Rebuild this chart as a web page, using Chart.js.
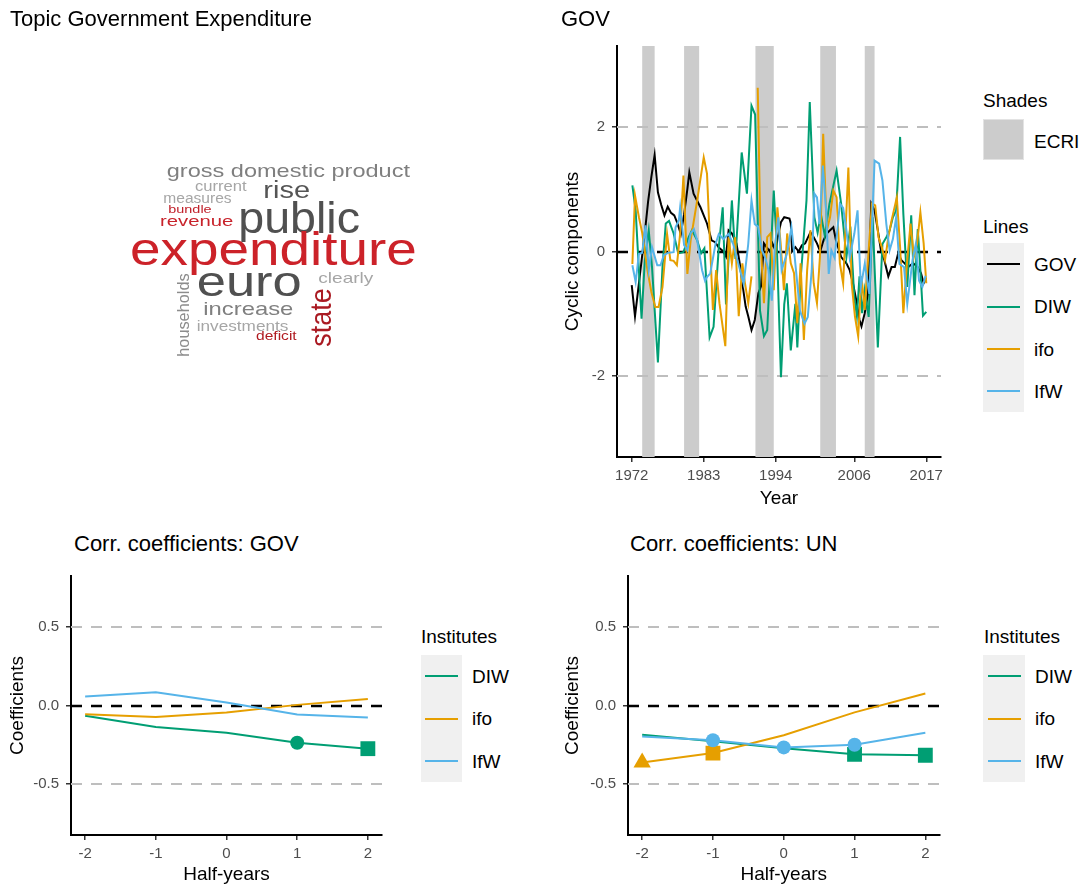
<!DOCTYPE html>
<html>
<head>
<meta charset="utf-8">
<script src="https://cdn.jsdelivr.net/npm/chart.js@4.4.1/dist/chart.umd.min.js"></script>
<style>
body { margin: 0; background: #fff; font-family: "Liberation Sans", Arial, sans-serif; }
#page { position: relative; width: 1087px; height: 890px; overflow: hidden; }
.t { position: absolute; white-space: nowrap; color: #000; }
.title { font-size: 22px; line-height: 22px; }
.leg { font-size: 19px; line-height: 19px; }
.box { position: absolute; box-sizing: border-box; }
canvas { position: absolute; }
</style>
</head>
<body>
<div id="page">
  <canvas id="cloud" width="555" height="520" style="left:0;top:0"></canvas>
  <canvas id="cyc" width="400" height="490" style="left:555px;top:30px"></canvas>
  <canvas id="corrGov" width="395" height="330" style="left:0;top:560px"></canvas>
  <canvas id="corrUn" width="395" height="330" style="left:555px;top:560px"></canvas>

  <div class="t title" style="left:10px;top:8px">Topic Government Expenditure</div>
  <div class="t title" style="left:561px;top:8px">GOV</div>
  <div class="t title" style="left:74px;top:533px">Corr. coefficients: GOV</div>
  <div class="t title" style="left:630px;top:533px">Corr. coefficients: UN</div>

  <!-- legend: top right -->
  <div class="t leg" style="left:983px;top:91px">Shades</div>
  <div class="box" style="left:983px;top:119px;width:41px;height:41px;background:#cccccc;border:1px solid #e3e3e3"></div>
  <div class="t leg" style="left:1034px;top:131.5px">ECRI</div>
  <div class="t leg" style="left:983px;top:216.5px">Lines</div>
  <div class="box" style="left:983px;top:243px;width:41px;height:169px;background:#f0f0f0"></div>
  <div id="legCyc"></div>

  <!-- legends: bottom -->
  <div class="t leg" style="left:421px;top:626.5px">Institutes</div>
  <div class="box" style="left:421px;top:655px;width:41px;height:127px;background:#f0f0f0"></div>
  <div class="t leg" style="left:984px;top:626.5px">Institutes</div>
  <div class="box" style="left:983px;top:655px;width:42px;height:127px;background:#f0f0f0"></div>
  <div id="legGov"></div>
  <div id="legUn"></div>
</div>

<script>
// -----------------------------
// Data
// -----------------------------
// cyclic components (year, value)
const govYears = [1972.0, 1972.5, 1973.0, 1973.5, 1974.0, 1974.5, 1975.0, 1975.5,
  1976.0, 1976.5, 1977.0, 1977.5, 1978.0, 1978.5, 1979.0, 1979.5,
  1980.0, 1980.5, 1980.8, 1981.45, 1982.5, 1983.5, 1984.2, 1984.75,
  1985.25, 1986.0, 1986.4, 1986.8, 1987.3, 1988.0, 1988.5, 1988.9,
  1989.4, 1989.8, 1990.3, 1990.8, 1991.35, 1991.75, 1992.2, 1992.6,
  1993.1, 1993.5, 1994.0, 1994.3, 1994.8, 1995.3, 1996.1, 1996.3,
  1996.5, 1997.0, 1997.5, 1998.0, 1998.5, 1999.3, 1999.8, 2000.3,
  2000.8, 2001.3, 2001.8, 2002.3, 2002.8, 2003.2, 2004.0, 2004.8,
  2005.3, 2005.8, 2006.3, 2006.8, 2007.1, 2007.6, 2008.1, 2008.6,
  2009.1, 2009.6, 2010.1, 2010.6, 2011.2, 2011.7, 2012.2, 2012.7,
  2013.2, 2013.7, 2014.2, 2015.0, 2015.7, 2016.2, 2016.6, 2017.0];
const govVals = [-0.54, -1.04, -0.60, -0.15, 0.30, 0.80, 1.20, 1.55,
  0.95, 0.75, 0.58, 0.72, 0.62, 0.58, 0.45, 0.28,
  0.60, 1.00, 1.27, 0.93, 0.71, 0.45, 0.18, 0.15,
  0.07, 0.00, -0.08, 0.34, 0.29, 0.13, -0.19, -0.51,
  -0.88, -1.04, -1.26, -1.10, -0.67, -0.56, 0.13, 0.07,
  0.00, 0.13, 0.00, 0.23, 0.47, 0.55, 0.53, 0.45,
  0.00, 0.07, 0.00, 0.10, 0.13, 0.31, 0.23, 0.13,
  0.00, 0.18, 0.29, 0.34, 0.39, 0.18, -0.09, -0.19,
  -0.30, -0.51, -0.78, -1.10, -1.20, -0.99, -0.67, 0.77,
  0.66, 0.34, 0.00, -0.14, -0.40, -0.25, -0.25, -0.03,
  -0.14, -0.19, -0.25, -0.19, -0.25, -0.35, -0.51, -0.43];

const diwYears = [1972.1, 1972.6, 1973.5, 1974.0, 1974.6, 1975.1, 1976.0, 1976.7,
  1977.2, 1977.7, 1978.4, 1979.1, 1979.9, 1980.7, 1981.2, 1982.0,
  1982.6, 1983.1, 1983.9, 1984.5, 1985.3, 1985.9, 1986.4, 1987.3,
  1987.85, 1988.8, 1989.6, 1990.3, 1990.85, 1991.6, 1992.2, 1992.7,
  1993.7, 1994.2, 1994.8, 1995.3, 1995.7, 1996.3, 1997.0, 1997.3,
  1997.8, 1998.7, 1999.2, 1999.9, 2000.4, 2000.9, 2001.5, 2002.2,
  2003.3, 2004.0, 2004.8, 2005.4, 2006.0, 2006.4, 2006.8, 2007.2,
  2007.6, 2008.2, 2008.8, 2009.2, 2009.6, 2010.3, 2010.9, 2011.4,
  2011.9, 2012.4, 2013.0, 2013.5, 2014.1, 2014.7, 2015.2, 2015.7,
  2016.1, 2016.5, 2017.0];
const diwVals = [1.06, 0.66, -1.08, -0.14, 0.34, -0.25, -1.78, -0.25,
  0.45, 0.49, 0.29, -0.03, -0.01, 0.23, 0.34, 0.18,
  -0.03, 0.05, -1.38, -1.21, 0.07, 0.71, -0.85, 0.82,
  -0.12, 1.59, 0.93, 2.34, 2.20, -0.95, -1.36, -1.26,
  0.98, 0.00, -2.02, -0.85, -0.51, -1.59, -0.84, -1.54,
  -0.45, 0.82, 2.40, 0.55, 0.30, 0.60, 0.25, 0.76,
  1.30, 0.76, -0.09, 0.40, -0.73, -1.04, -0.40, -0.99,
  -0.62, -1.05, 0.55, -0.51, -1.54, 0.12, 0.23, 0.34,
  0.55, 0.66, 1.84, 0.60, -0.57, 0.58, -0.70, 0.36,
  -0.30, -1.03, -0.97];

// ifo has a break around 1990/91 (null)
const ifoYears = [1972.1, 1972.5, 1973.1, 1973.6, 1974.4, 1975.0, 1975.6, 1976.1,
  1976.7, 1977.4, 1977.9, 1978.4, 1978.9, 1979.4, 1979.9, 1980.5,
  1981.0, 1982.0, 1983.0, 1983.5, 1984.4, 1984.9, 1985.4, 1986.3,
  1986.8, 1987.3, 1987.8, 1988.35, 1988.9, 1989.3, 1989.8, 1990.3,
  1990.8, 1991.25, 1991.7, 1992.2, 1992.7, 1993.2, 1993.7, 1994.25,
  1994.75, 1995.25, 1995.75, 1996.3, 1996.8, 1997.3, 1997.8, 1998.3,
  1998.8, 1999.3, 1999.8, 2000.3, 2000.75, 2001.25, 2001.8, 2002.3,
  2002.8, 2003.3, 2003.8, 2004.3, 2005.1, 2005.6, 2006.1, 2006.6,
  2007.1, 2007.6, 2008.2, 2008.7, 2009.2, 2009.7, 2010.2, 2010.7,
  2011.2, 2011.7, 2012.5, 2013.0, 2013.5, 2014.05, 2014.6, 2015.1,
  2015.6, 2016.1, 2016.6, 2017.0];
const ifoVals = [-0.20, 0.90, 0.55, 0.30, -0.30, -0.65, -0.89, -0.89,
  -0.57, 0.28, -0.14, -0.15, -0.22, 0.29, 1.22, -0.36,
  0.18, 0.82, 1.51, 1.25, -0.94, -0.30, -0.83, -1.52,
  0.23, -0.19, 0.23, -1.04, -0.19, -0.51, -0.83, -0.40,
  null, 2.63, 0.13, -0.83, 0.23, 0.29, -0.62, 0.71,
  0.13, -0.62, 0.29, -0.19, -0.35, -1.15, -0.19, -1.42,
  -0.30, 0.34, -0.51, -0.83, -0.09, 1.89, 0.34, 0.55,
  0.98, 0.87, -0.19, -0.51, 1.35, -0.51, -1.04, -1.36,
  -0.40, -0.94, 0.02, 0.77, 0.74, 0.23, 0.07, -0.14,
  0.23, 0.50, 0.87, 0.07, -0.99, -0.19, 0.45, -0.09,
  0.13, 0.63, 0.13, -0.51];

const ifwYears = [1972.1, 1972.6, 1973.1, 1973.6, 1974.1, 1974.6, 1975.1, 1975.9,
  1976.4, 1976.9, 1977.6, 1978.4, 1978.7, 1979.2, 1979.4, 1980.0,
  1980.5, 1981.0, 1981.5, 1982.0, 1982.75, 1983.2, 1983.5, 1984.0,
  1984.8, 1985.3, 1986.0, 1986.8, 1987.5, 1988.3, 1989.1, 1989.8,
  1990.3, 1990.8, 1991.3, 1991.9, 1992.4, 1992.9, 1993.4, 1993.9,
  1994.4, 1994.9, 1995.7, 1996.4, 1996.9, 1997.7, 1998.4, 1998.9,
  1999.5, 1999.9, 2000.3, 2000.7, 2001.2, 2001.7, 2002.1, 2002.5,
  2003.0, 2003.8, 2004.3, 2004.8, 2005.3, 2006.0, 2006.5, 2007.0,
  2007.6, 2008.3, 2009.1, 2009.8, 2010.3, 2010.9, 2011.4, 2011.9,
  2012.4, 2012.9, 2013.6, 2014.1, 2014.9, 2015.4, 2015.9, 2016.4,
  2016.9];
const ifwVals = [-0.22, -0.49, -0.04, -0.02, 0.42, -0.30, 0.07, -0.22,
  -0.22, -0.06, -0.02, -0.01, 0.39, 0.50, 0.71, 0.10,
  0.02, 0.29, 0.36, 0.18, -0.30, -0.47, -0.41, -0.35,
  0.12, 0.28, 0.20, 0.28, 0.12, -0.20, -0.52, 0.12,
  0.82, 0.44, 0.40, 0.02, -0.10, -0.30, -0.79, 0.12,
  0.55, -0.30, -0.04, 0.39, -0.09, -0.95, -1.16, -1.05,
  -0.30, 0.93, 0.87, 0.44, 1.38, 0.66, -0.36, 0.02,
  -0.10, 0.77, 0.70, 0.34, -0.10, 0.28, 0.66, -0.57,
  -0.20, -0.68, 1.46, 1.41, 1.14, 0.44, 0.02, 0.20,
  0.55, -0.20, -0.25, -0.84, -0.14, 0.12, -0.47, -0.57,
  -0.39];

// ECRI recession shades
const ecriStart = [1973.6, 1980.0, 1990.9, 2000.8, 2007.6];
const ecriEnd = [1975.5, 1982.3, 1993.7, 2003.2, 2009.1];
const yearTicks = [1972, 1983, 1994, 2006, 2017];
const cycTicks = [-2, 0, 2];

// correlation coefficients by lead/lag in half-years
const lags = [-2, -1, 0, 1, 2];
const corrTicks = [-0.5, 0, 0.5];
const govDIW = [-0.065, -0.137, -0.174, -0.237, -0.275];
const govIfo = [-0.055, -0.074, -0.044, 0.004, 0.042];
const govIfW = [0.057, 0.084, 0.019, -0.057, -0.076];
const unDIW = [-0.187, -0.227, -0.273, -0.311, -0.317];
const unIfo = [-0.363, -0.303, -0.189, -0.044, 0.076];
const unIfW = [-0.197, -0.221, -0.267, -0.250, -0.174];
// significance codes: 0 none, 1 circle, 2 triangle, 3 square
const govSigDIW = [0, 0, 0, 1, 3];
const govSigIfo = [0, 0, 0, 0, 0];
const govSigIfW = [0, 0, 0, 0, 0];
const unSigDIW = [0, 0, 0, 3, 3];
const unSigIfo = [2, 3, 0, 0, 0];
const unSigIfW = [0, 1, 1, 1, 0];

// word cloud terms
const cloudWords = ['gross domestic product', 'current', 'rise', 'measures', 'bundle', 'revenue',
  'public', 'expenditure', 'euro', 'clearly', 'households', 'increase', 'investments', 'deficit', 'state'];

// -----------------------------
// Styles
// -----------------------------
const COL = { GOV: '#000000', DIW: '#009E73', ifo: '#E69F00', IfW: '#56B4E9' };
const SHAPE = ['circle', 'circle', 'triangle', 'rect'];
const SIZE = [0, 7, 10, 10.5];
Chart.defaults.font.family = '"Liberation Sans", Arial, sans-serif';
Chart.defaults.animation = false;

// word placement: left x, baseline y, font px, drawn width, colour, vertical
const cloudLayout = [
  [166.7, 176.7, 19, 243.3, '#7f7f7f', false],
  [195, 191, 14, 51.7, '#a6a6a6', false],
  [263.3, 197.7, 23, 46.7, '#555555', false],
  [163.3, 202.7, 14, 68.3, '#a6a6a6', false],
  [168.3, 213.3, 11.5, 43.3, '#c0202a', false],
  [160, 226, 15.5, 73.3, '#c8232b', false],
  [238.3, 233.3, 44, 121.7, '#505050', false],
  [130, 265, 46, 286.7, '#cc2229', false],
  [196.7, 296, 42, 105, '#505050', false],
  [318.3, 283.3, 14.5, 55, '#a6a6a6', false],
  [189, 356.7, 17, 83.3, '#8c8c8c', true],
  [203.3, 315, 19, 90, '#808080', false],
  [196.7, 331, 14, 91.7, '#a6a6a6', false],
  [256, 340, 12, 40.7, '#b01a20', false],
  [330.7, 346.7, 30, 58.3, '#aa1a22', true]
];

(function drawCloud() {
  const ctx = document.getElementById('cloud').getContext('2d');
  cloudWords.forEach((w, i) => {
    const [x, y, fs, width, color, vertical] = cloudLayout[i];
    ctx.save();
    ctx.font = fs + 'px "Liberation Sans", Arial, sans-serif';
    ctx.fillStyle = color;
    ctx.textBaseline = 'alphabetic';
    const sx = width / ctx.measureText(w).width;
    ctx.translate(x, y);
    if (vertical) ctx.rotate(-Math.PI / 2);
    ctx.scale(sx, 1);
    ctx.fillText(w, 0, 0);
    ctx.restore();
  });
})();

// -----------------------------
// Shades + reference lines
// -----------------------------
const guides = {
  id: 'guides',
  beforeDatasetsDraw(chart, args, o) {
    const { ctx, chartArea: a } = chart;
    const xs = chart.scales.x, ys = chart.scales.y;
    ctx.save();
    ctx.beginPath();
    ctx.rect(a.left, a.top, a.right - a.left, a.bottom - a.top);
    ctx.clip();
    (o.from || []).forEach((s, i) => {
      const x0 = xs.getPixelForValue(s), x1 = xs.getPixelForValue(o.to[i]);
      ctx.fillStyle = '#cccccc';
      ctx.fillRect(x0, a.top, x1 - x0, a.bottom - a.top);
    });
    (o.hlines || []).forEach(h => {
      const py = Math.round(ys.getPixelForValue(h.v));
      ctx.beginPath();
      ctx.setLineDash([11, 9]);
      ctx.lineWidth = h.w;
      ctx.strokeStyle = h.c;
      ctx.moveTo(a.left, py);
      ctx.lineTo(a.right, py);
      ctx.stroke();
    });
    ctx.restore();
  }
};
Chart.register(guides);

function axis(min, max, vals, fmt, title, fit, titlePad, horizontal) {
  return {
    type: 'linear', min: min, max: max, bounds: 'data',
    afterBuildTicks: s => { s.ticks = vals.map(v => ({ value: v })); },
    afterFit: s => { if (horizontal) s.height = fit; else s.width = fit; },
    ticks: { autoSkip: false, maxRotation: 0, padding: horizontal ? 5 : 7, color: '#4d4d4d',
      font: { size: 15 }, callback: fmt },
    grid: { drawOnChartArea: false, drawTicks: true, tickLength: 5, color: '#333333', lineWidth: 1.5 },
    border: { display: true, color: '#000000', width: 2 },
    title: { display: true, text: title, color: '#000000', font: { size: 19 },
      padding: horizontal ? { top: 0, bottom: titlePad } : { top: titlePad, bottom: 0 } }
  };
}

function pts(xs, ys) { return xs.map((x, i) => ({ x: x, y: ys[i] })); }

function line(label, xs, ys, order) {
  return { label: label, data: pts(xs, ys), borderColor: COL[label], borderWidth: 2,
    pointRadius: 0, tension: 0, spanGaps: false, fill: false, order: order };
}

function corrLine(label, vals, sig, order) {
  return { label: label, data: pts(lags, vals), borderColor: COL[label], borderWidth: 2,
    backgroundColor: COL[label], pointBackgroundColor: COL[label], pointBorderWidth: 0,
    pointStyle: sig.map(s => SHAPE[s]), pointRadius: sig.map(s => SIZE[s]),
    pointHoverRadius: 0, tension: 0, fill: false, order: order };
}

// -----------------------------
// GOV cyclic components
// -----------------------------
new Chart(document.getElementById('cyc'), {
  type: 'line',
  data: { datasets: [
    line('GOV', govYears, govVals, 4),
    line('DIW', diwYears, diwVals, 3),
    line('ifo', ifoYears, ifoVals, 2),
    line('IfW', ifwYears, ifwVals, 1)
  ] },
  options: {
    responsive: false,
    layout: { padding: { top: 15, right: 14, left: 0, bottom: 0 } },
    plugins: {
      legend: { display: false }, tooltip: { enabled: false },
      guides: { from: ecriStart, to: ecriEnd, hlines: [
        { v: 2, c: '#bebebe', w: 2 }, { v: -2, c: '#bebebe', w: 2 }, { v: 0, c: '#000000', w: 2.5 }] }
    },
    scales: {
      x: axis(1969.75, 2019.25, yearTicks, v => String(v), 'Year', 63, 10, true),
      y: axis(-3.3, 3.3, cycTicks, v => String(v), 'Cyclic components', 62, 6, false)
    }
  }
});

// -----------------------------
// Correlation panels
// -----------------------------
function corrChart(id, dDIW, dIfo, dIfW, sDIW, sIfo, sIfW, yWidth, padRight) {
  new Chart(document.getElementById(id), {
    type: 'line',
    data: { datasets: [
      corrLine('DIW', dDIW, sDIW, 3),
      corrLine('ifo', dIfo, sIfo, 2),
      corrLine('IfW', dIfW, sIfW, 1)
    ] },
    options: {
      responsive: false,
      layout: { padding: { top: 13, right: padRight, left: 0, bottom: 0 } },
      plugins: {
        legend: { display: false }, tooltip: { enabled: false },
        guides: { hlines: [
          { v: 0.5, c: '#bebebe', w: 2 }, { v: -0.5, c: '#bebebe', w: 2 }, { v: 0, c: '#000000', w: 2.5 }] }
      },
      scales: {
        x: axis(-2.2, 2.2, lags, v => String(v), 'Half-years', 55, 4, true),
        y: axis(-0.825, 0.825, corrTicks, v => v.toFixed(1), 'Coefficients', yWidth, 6, false)
      }
    }
  });
}
corrChart('corrGov', govDIW, govIfo, govIfW, govSigDIW, govSigIfo, govSigIfW, 71, 13);
corrChart('corrUn', unDIW, unIfo, unIfW, unSigDIW, unSigIfo, unSigIfW, 73, 7);

// -----------------------------
// Legend keys
// -----------------------------
function keys(host, names, rows, lineX, lineW, labelX) {
  const el = document.getElementById(host);
  names.forEach((n, i) => {
    const ln = document.createElement('div');
    ln.className = 'box';
    ln.style.cssText = 'left:' + lineX + 'px;top:' + (rows[i] - 1) + 'px;width:' + lineW +
      'px;height:2px;background:' + COL[n];
    el.appendChild(ln);
    const tx = document.createElement('div');
    tx.className = 't leg';
    tx.style.cssText = 'left:' + labelX + 'px;top:' + (rows[i] - 9.3) + 'px';
    tx.textContent = n;
    el.appendChild(tx);
  });
}
keys('legCyc', ['GOV', 'DIW', 'ifo', 'IfW'], [264, 306.6, 348.8, 391.2], 987, 33, 1034);
keys('legGov', ['DIW', 'ifo', 'IfW'], [676, 718.5, 761], 425, 33, 472);
keys('legUn', ['DIW', 'ifo', 'IfW'], [676, 718.5, 761], 988, 33, 1035);
</script>
</body>
</html>
